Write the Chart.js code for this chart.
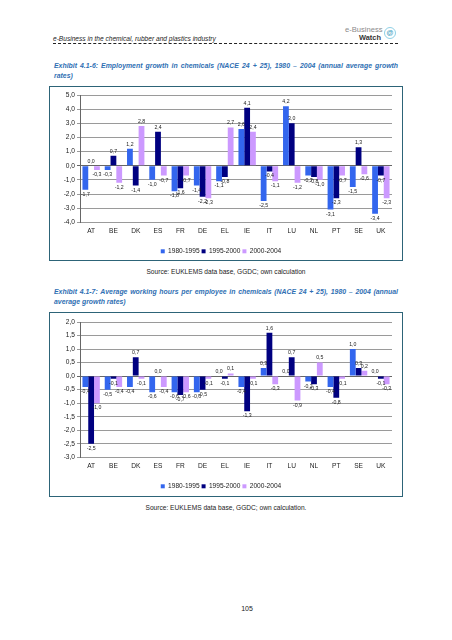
<!DOCTYPE html>
<html>
<head>
<meta charset="utf-8">
<script src="https://cdn.jsdelivr.net/npm/chart.js@4"></script>
<style>
  body { margin: 0; background: #fff; font-family: "Liberation Sans", Arial, sans-serif; }
  .page { position: relative; width: 452px; height: 640px; }
  .hdr { position: absolute; left: 53px; top: 35px; font-size: 6.6px; font-style: italic; color: #222; }
  .dash { position: absolute; left: 53px; top: 43px; width: 345px; border-top: 1px dashed #222; }
  .logo1 { position: absolute; left: 345px; top: 25px; font-size: 7.6px; color: #8a8a8a; }
  .logo2 { position: absolute; left: 359px; top: 33px; font-size: 7.4px; font-weight: bold; color: #333; }
  .logo3 { position: absolute; left: 384px; top: 27px; width: 10px; height: 10px; border: 1.5px solid #8fd0e6; border-radius: 50%;
           font-size: 7px; line-height: 10px; text-align: center; color: #3a9cc0; font-weight: bold; }
  .title { position: absolute; left: 54px; width: 344px; font-size: 6.9px; line-height: 10px; font-weight: bold; font-style: italic;
           color: #2f6fb3; text-align: justify; text-align-last: left; }
  .box { position: absolute; left: 49px; width: 352px; border: 1px solid #2d6478; }
  .box canvas { display: block; }
  .src { position: absolute; left: 0; width: 452px; text-align: center; font-size: 6.6px; color: #222; }
  .pno { position: absolute; left: 0; width: 494px; text-align: center; top: 605px; font-size: 7px; color: #222; }
</style>
</head>
<body>
<div class="page">
  <div class="hdr">e-Business in the chemical, rubber and plastics industry</div>
  <div class="dash"></div>
  <div class="logo1">e-Business</div>
  <div class="logo2">Watch</div>
  <div class="logo3">@</div>

  <div class="title" style="top:61px">Exhibit 4.1-6: Employment growth in chemicals (NACE 24 + 25), 1980 – 2004 (annual average growth rates)</div>
  <div class="box" style="top:86px;height:173px"><canvas id="empChart" width="352" height="173"></canvas></div>
  <div class="src" style="top:268px">Source: EUKLEMS data base, GGDC; own calculation</div>

  <div class="title" style="top:287px">Exhibit 4.1-7: Average working hours per employee in chemicals (NACE 24 + 25), 1980 – 2004 (annual average growth rates)</div>
  <div class="box" style="top:312px;height:183px"><canvas id="hrsChart" width="352" height="183"></canvas></div>
  <div class="src" style="top:504px">Source: EUKLEMS data base, GGDC; own calculation.</div>

  <div class="pno">105</div>
</div>

<script>
const countries = ['AT', 'BE', 'DK', 'ES', 'FR', 'DE', 'EL', 'IE', 'IT', 'LU', 'NL', 'PT', 'SE', 'UK'];
const periods = ['1980-1995', '1995-2000', '2000-2004'];

// Employment growth, % p.a.
const emp8095 = [-1.7, -0.3, 1.2, -1.0, -1.8, -1.4, -1.1, 2.6, -2.5, 4.2, -0.7, -3.1, -1.5, -3.4];
const emp9500 = [0.0, 0.7, -1.4, 2.4, -1.6, -2.2, -0.8, 4.1, -0.4, 3.0, -0.8, -2.3, 1.3, -0.7];
const emp0004 = [-0.3, -1.2, 2.8, -0.7, -0.7, -2.3, 2.7, 2.4, -1.1, -1.2, -1.0, -0.7, -0.6, -2.3];

// Working hours per employee, % p.a.
const hrs8095 = [-0.4, -0.5, -0.4, -0.6, -0.6, -0.6, 0.0, -0.4, 0.3, 0.0, -0.2, -0.4, 1.0, 0.0];
const hrs9500 = [-2.5, -0.1, 0.7, 0.0, -0.7, -0.5, -0.1, -1.3, 1.6, 0.7, -0.3, -0.8, 0.3, -0.1];
const hrs0004 = [-1.0, -0.4, -0.1, -0.4, -0.6, -0.1, 0.1, -0.1, -0.3, -0.9, 0.5, -0.1, 0.2, -0.3];

const colors = ['#3366ee', '#000080', '#cc99ff'];
const FONT = '"Liberation Sans", Arial, sans-serif';

const fmt = v => v.toFixed(1).replace('.', ',');

// small value labels above / below each bar
const barLabels = {
    id: 'barLabels',
    afterDatasetsDraw(chart) {
        const ctx = chart.ctx;
        ctx.save();
        ctx.font = '5.2px ' + FONT;
        ctx.fillStyle = '#222';
        ctx.textAlign = 'center';
        chart.data.datasets.forEach((ds, i) => {
            chart.getDatasetMeta(i).data.forEach((bar, j) => {
                const v = ds.data[j];
                if (v >= 0) {
                    ctx.textBaseline = 'bottom';
                    ctx.fillText(fmt(v), bar.x, bar.y - 2);
                } else {
                    ctx.textBaseline = 'top';
                    ctx.fillText(fmt(v), bar.x, bar.y + 2);
                }
            });
        });
        ctx.restore();
    }
};

function makeChart(id, series, yMin, yMax, step, padTop, padBottom) {
    const ctx = document.getElementById(id).getContext('2d');
    return new Chart(ctx, {
        type: 'bar',
        data: {
            labels: countries,
            datasets: series.map((s, i) => ({
                label: periods[i],
                data: s,
                backgroundColor: colors[i],
                borderWidth: 0,
                barPercentage: 1.0,
                categoryPercentage: 0.78
            }))
        },
        options: {
            responsive: false,
            animation: false,
            devicePixelRatio: 1,
            layout: { padding: { top: padTop, right: 10, bottom: padBottom, left: 0 } },
            scales: {
                x: {
                    grid: { display: false, drawTicks: false },
                    border: { display: false },
                    ticks: { font: { size: 6.6, family: FONT }, color: '#222', padding: 5 },
                    afterFit: scale => { scale.height = 23.7; }
                },
                y: {
                    min: yMin,
                    max: yMax,
                    ticks: {
                        stepSize: step,
                        font: { size: 6.6, family: FONT },
                        color: '#222',
                        padding: 2,
                        callback: v => fmt(v)
                    },
                    grid: {
                        color: ctx => ctx.tick && ctx.tick.value === 0 ? '#666' : '#9a9a9a',
                        tickLength: 3,
                        lineWidth: 1
                    },
                    border: { display: true, color: '#666' },
                    afterFit: scale => { scale.width = 30; }
                }
            },
            plugins: {
                legend: {
                    position: 'bottom',
                    maxHeight: 13,
                    labels: {
                        boxWidth: 4,
                        boxHeight: 4,
                        padding: 2,
                        font: { size: 6.6, family: FONT },
                        color: '#222'
                    }
                },
                tooltip: { enabled: false }
            }
        },
        plugins: [barLabels]
    });
}

makeChart('empChart', [emp8095, emp9500, emp0004], -4, 5, 1, 8, 1);
makeChart('hrsChart', [hrs8095, hrs9500, hrs0004], -3, 2, 0.5, 9, 2);
</script>
</body>
</html>
